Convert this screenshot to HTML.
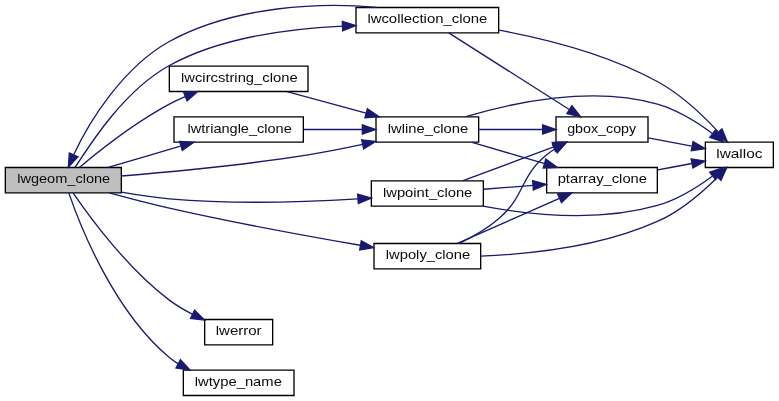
<!DOCTYPE html>
<html><head><meta charset="utf-8"><title>lwgeom_clone call graph</title>
<style>
html,body{margin:0;padding:0;background:#fff;overflow:hidden;width:779px;height:401px}
svg{display:block;will-change:transform}
text{font-family:"Liberation Sans",sans-serif;font-size:10px;text-anchor:middle;fill:#0a0a0a}
</style></head><body>
<svg width="779" height="401" viewBox="0 0 584.25 300.75">
<rect x="0" y="0" width="584.25" height="300.75" fill="#fff"/>
<g transform="translate(4 297.11)">
<polygon fill="#bfbfbf" stroke="black" points="0,-152.5 0,-171.5 87,-171.5 87,-152.5 0,-152.5"/>
<text x="43.75" y="-159.50" textLength="69.78" lengthAdjust="spacingAndGlyphs">lwgeom_clone</text>
<polygon fill="white" stroke="black" points="123,-228.5 123,-247.5 227,-247.5 227,-228.5 123,-228.5"/>
<text x="175.50" y="-235.50" textLength="87.43" lengthAdjust="spacingAndGlyphs">lwcircstring_clone</text>
<path fill="none" stroke="#191970" d="M55.55,-171.53C70.19,-183.79 97.17,-205.15 123,-219 126.75,-221.01 130.75,-222.9 134.81,-224.65"/>
<polygon fill="#191970" stroke="#191970" points="133.69,-227.97 144.27,-228.47 136.31,-221.48 133.69,-227.97"/>
<polygon fill="white" stroke="black" points="278,-190.5 278,-209.5 355,-209.5 355,-190.5 278,-190.5"/>
<text x="317.00" y="-197.50" textLength="60.28" lengthAdjust="spacingAndGlyphs">lwline_clone</text>
<path fill="none" stroke="#191970" d="M87.08,-165.13C124.17,-168.16 179.34,-173.43 227,-181 240.36,-183.12 254.74,-185.97 267.94,-188.8"/>
<polygon fill="#191970" stroke="#191970" points="267.25,-192.24 277.77,-190.96 268.75,-185.4 267.25,-192.24"/>
<polygon fill="white" stroke="black" points="263,-272.5 263,-291.5 370,-291.5 370,-272.5 263,-272.5"/>
<text x="316.50" y="-279.50" textLength="89.91" lengthAdjust="spacingAndGlyphs">lwcollection_clone</text>
<path fill="none" stroke="#191970" d="M52.43,-171.66C64.45,-190.41 89.48,-229.48 123,-248 162.48,-269.81 213.3,-275.65 252.81,-277.54"/>
<polygon fill="#191970" stroke="#191970" points="252.72,-281.04 262.86,-277.95 253.01,-274.05 252.72,-281.04"/>
<polygon fill="white" stroke="black" points="149.5,-38.5 149.5,-57.5 200.5,-57.5 200.5,-38.5 149.5,-38.5"/>
<text x="175.00" y="-45.50" textLength="34.46" lengthAdjust="spacingAndGlyphs">lwerror</text>
<path fill="none" stroke="#191970" d="M50.81,-152.43C62.96,-134.62 91.23,-95.99 123,-72 128.23,-68.05 134.21,-64.53 140.19,-61.48"/>
<polygon fill="#191970" stroke="#191970" points="141.94,-64.52 149.49,-57.08 138.95,-58.19 141.94,-64.52"/>
<polygon fill="white" stroke="black" points="274.5,-142.5 274.5,-161.5 358.5,-161.5 358.5,-142.5 274.5,-142.5"/>
<text x="316.75" y="-149.50" textLength="66.98" lengthAdjust="spacingAndGlyphs">lwpoint_clone</text>
<path fill="none" stroke="#191970" d="M87.09,-152.99C98.69,-150.93 111.28,-149.04 123,-148 170.84,-143.77 225.61,-145.55 264.46,-147.92"/>
<polygon fill="#191970" stroke="#191970" points="264.28,-151.42 274.48,-148.57 264.73,-144.43 264.28,-151.42"/>
<polygon fill="white" stroke="black" points="276.5,-95.5 276.5,-114.5 356.5,-114.5 356.5,-95.5 276.5,-95.5"/>
<text x="317.00" y="-102.50" textLength="63.36" lengthAdjust="spacingAndGlyphs">lwpoly_clone</text>
<path fill="none" stroke="#191970" d="M77.98,-152.44C91.85,-148.64 108.14,-144.37 123,-141 171.39,-130.02 227.18,-119.86 266.2,-113.15"/>
<polygon fill="#191970" stroke="#191970" points="266.97,-116.57 276.24,-111.44 265.79,-109.67 266.97,-116.57"/>
<polygon fill="white" stroke="black" points="126.5,-190.5 126.5,-209.5 223.5,-209.5 223.5,-190.5 126.5,-190.5"/>
<text x="175.75" y="-197.50" textLength="78.14" lengthAdjust="spacingAndGlyphs">lwtriangle_clone</text>
<path fill="none" stroke="#191970" d="M77.18,-171.59C93.59,-176.4 113.68,-182.3 131.29,-187.47"/>
<polygon fill="#191970" stroke="#191970" points="130.75,-190.96 141.33,-190.41 132.72,-184.24 130.75,-190.96"/>
<polygon fill="white" stroke="black" points="133.5,-0.5 133.5,-19.5 216.5,-19.5 216.5,-0.5 133.5,-0.5"/>
<text x="174.75" y="-7.50" textLength="65.32" lengthAdjust="spacingAndGlyphs">lwtype_name</text>
<path fill="none" stroke="#191970" d="M47.59,-152.47C55.87,-128.35 80.86,-64.29 123,-29 125,-27.33 127.15,-25.8 129.42,-24.39"/>
<polygon fill="#191970" stroke="#191970" points="131.31,-27.35 138.53,-19.6 128.05,-21.16 131.31,-27.35"/>
<path fill="none" stroke="#191970" d="M211.2,-228.41C229.21,-223.51 251.33,-217.48 270.56,-212.24"/>
<polygon fill="#191970" stroke="#191970" points="271.58,-215.59 280.31,-209.59 269.74,-208.84 271.58,-215.59"/>
<polygon fill="white" stroke="black" points="413,-190.5 413,-209.5 482,-209.5 482,-190.5 413,-190.5"/>
<text x="447.25" y="-197.50" textLength="51.71" lengthAdjust="spacingAndGlyphs">gbox_copy</text>
<path fill="none" stroke="#191970" d="M355.16,-200C370.02,-200 387.2,-200 402.62,-200"/>
<polygon fill="#191970" stroke="#191970" points="402.97,-203.5 412.97,-200 402.97,-196.5 402.97,-203.5"/>
<polygon fill="white" stroke="black" points="525,-171.5 525,-190.5 576,-190.5 576,-171.5 525,-171.5"/>
<text x="550.50" y="-178.50" textLength="34.60" lengthAdjust="spacingAndGlyphs">lwalloc</text>
<path fill="none" stroke="#191970" d="M345.39,-209.58C379.79,-219.94 439.78,-233.18 489,-219 504.05,-214.67 518.97,-205.36 530.23,-197.05"/>
<polygon fill="#191970" stroke="#191970" points="532.65,-199.6 538.4,-190.71 528.36,-194.07 532.65,-199.6"/>
<polygon fill="white" stroke="black" points="406,-152.5 406,-171.5 489,-171.5 489,-152.5 406,-152.5"/>
<text x="447.75" y="-159.50" textLength="67.01" lengthAdjust="spacingAndGlyphs">ptarray_clone</text>
<path fill="none" stroke="#191970" d="M350.05,-190.41C366.4,-185.6 386.41,-179.7 403.96,-174.53"/>
<polygon fill="#191970" stroke="#191970" points="405.35,-177.77 413.96,-171.59 403.38,-171.05 405.35,-177.77"/>
<path fill="none" stroke="#191970" d="M482.13,-193.67C492.63,-191.7 504.23,-189.52 514.81,-187.53"/>
<polygon fill="#191970" stroke="#191970" points="515.78,-190.91 524.96,-185.62 514.48,-184.03 515.78,-190.91"/>
<path fill="none" stroke="#191970" d="M489.29,-169.67C497.76,-171.27 506.61,-172.93 514.83,-174.48"/>
<polygon fill="#191970" stroke="#191970" points="514.36,-177.95 524.84,-176.36 515.66,-171.07 514.36,-177.95"/>
<path fill="none" stroke="#191970" d="M278.64,-291.52C237.97,-295.52 171.82,-292.97 123,-266 88.42,-246.9 62.89,-205.94 51.34,-181.21"/>
<polygon fill="#191970" stroke="#191970" points="54.42,-179.52 47.26,-171.71 47.99,-182.28 54.42,-179.52"/>
<path fill="none" stroke="#191970" d="M332.55,-272.43C354.79,-258.3 396.62,-231.71 422.94,-214.98"/>
<polygon fill="#191970" stroke="#191970" points="424.98,-217.82 431.55,-209.51 421.23,-211.92 424.98,-217.82"/>
<path fill="none" stroke="#191970" d="M370.19,-274.55C405.43,-268 451.94,-256.24 489,-236 506.61,-226.38 523.22,-210.61 534.57,-198.42"/>
<polygon fill="#191970" stroke="#191970" points="537.45,-200.45 541.53,-190.67 532.24,-195.77 537.45,-200.45"/>
<path fill="none" stroke="#191970" d="M343.3,-161.6C362.81,-168.86 389.81,-178.91 411.31,-186.91"/>
<polygon fill="#191970" stroke="#191970" points="410.16,-190.21 420.75,-190.42 412.6,-183.65 410.16,-190.21"/>
<path fill="none" stroke="#191970" d="M358.2,-142.48C393.5,-135.95 445.59,-130.5 489,-143 504.05,-147.33 518.97,-156.64 530.23,-164.95"/>
<polygon fill="#191970" stroke="#191970" points="528.36,-167.93 538.4,-171.29 532.65,-162.4 528.36,-167.93"/>
<path fill="none" stroke="#191970" d="M358.67,-155.19C370.42,-156.1 383.37,-157.11 395.63,-158.06"/>
<polygon fill="#191970" stroke="#191970" points="395.48,-161.56 405.72,-158.84 396.02,-154.58 395.48,-161.56"/>
<path fill="none" stroke="#191970" d="M340.57,-114.59C350.27,-119.28 361.29,-125.54 370,-133 390.25,-150.35 385.31,-164.17 406,-181 407.81,-182.47 409.76,-183.86 411.78,-185.17"/>
<polygon fill="#191970" stroke="#191970" points="410.53,-188.48 420.96,-190.34 413.96,-182.38 410.53,-188.48"/>
<path fill="none" stroke="#191970" d="M356.62,-105.05C392.51,-106.43 446.39,-111.94 489,-131 506.38,-138.77 522.82,-152.96 534.16,-164.24"/>
<polygon fill="#191970" stroke="#191970" points="531.68,-166.71 541.14,-171.47 536.71,-161.85 531.68,-166.71"/>
<path fill="none" stroke="#191970" d="M339.09,-114.54C360.02,-123.79 391.98,-137.91 415.6,-148.35"/>
<polygon fill="#191970" stroke="#191970" points="414.28,-151.59 424.84,-152.43 417.11,-145.19 414.28,-151.59"/>
<path fill="none" stroke="#191970" d="M223.62,-200C237.84,-200 253.44,-200 267.68,-200"/>
<polygon fill="#191970" stroke="#191970" points="267.77,-203.5 277.77,-200 267.77,-196.5 267.77,-203.5"/>
</g>
</svg>
</body></html>
